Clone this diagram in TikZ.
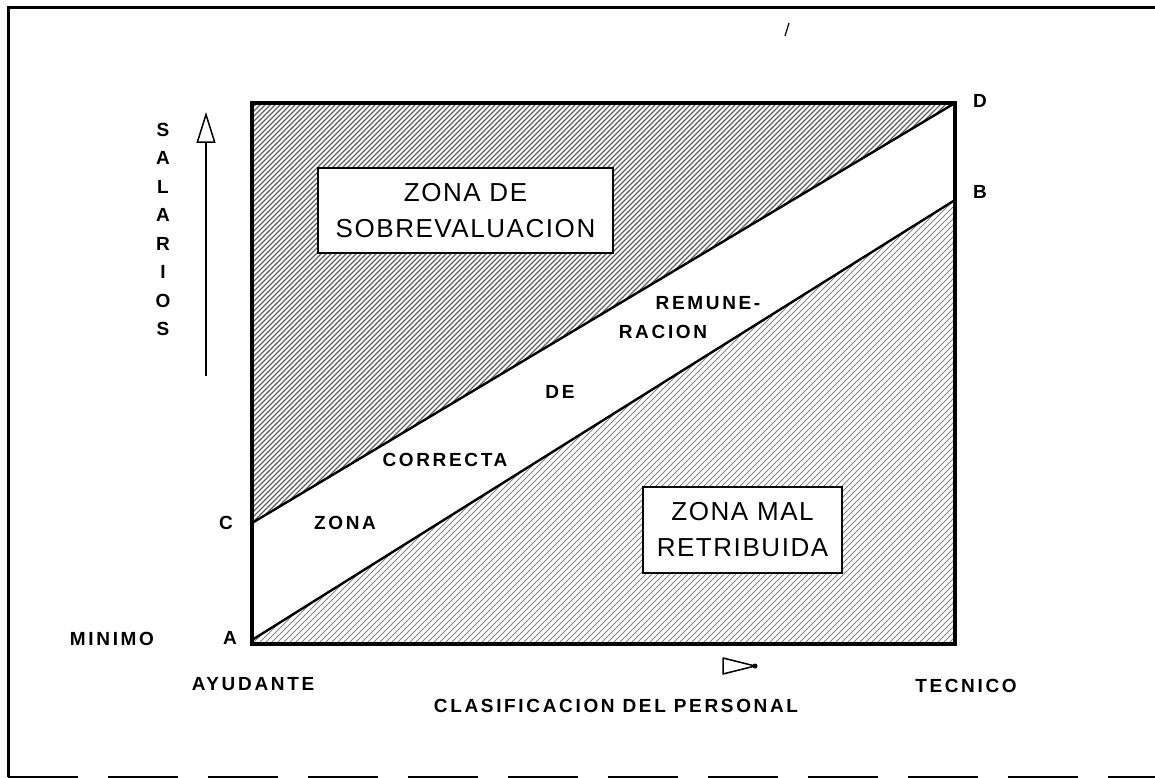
\documentclass[tikz,border=0pt]{standalone}
\usepackage{fontspec}
\setmainfont{Liberation Sans}
\newfontfamily\labfont[LetterSpace=14]{Liberation Sans}
\newfontfamily\boxfont[LetterSpace=6]{Liberation Sans}
\usetikzlibrary{arrows.meta}
\begin{document}
\begin{tikzpicture}[x=1pt,y=-1pt,
  lab/.style={font=\labfont\bfseries\fontsize{19}{23}\selectfont, inner sep=0pt},
  zonebox/.style={draw, line width=1.6pt, fill=white, font=\boxfont\fontsize{26}{36}\selectfont, align=center, inner sep=0pt},
  hatchup/.style={black!62, line width=1.1pt},
  hatchlow/.style={black!48, line width=1.0pt},
  frame/.style={line width=3pt},
  plotframe/.style={line width=4pt},
  bound/.style={line width=2.4pt}]
\useasboundingbox (0,0) rectangle (1155,778);
% outer frame
\coordinate (f1) at (1155,8);
\coordinate (f2) at (8,8);
\coordinate (f3) at (8,777);
\coordinate (f4) at (1155,777);
\draw[frame] (f1) -- (f2) -- (f3);
\draw[line width=1.5pt, dash pattern=on 70pt off 30pt] (f3) -- (f4);
\coordinate (s1) at (785,36);
\coordinate (s2) at (789,23);
\draw[line width=1.2pt] (s1) -- (s2);
% plot corners
\coordinate (TL) at (252,103);
\coordinate (BR) at (955,644);
\coordinate (BL) at (252,644);
\coordinate (A) at (252,640);
\coordinate (B) at (955,200);
\coordinate (C) at (252,523);
\coordinate (D) at (955,103);
% hatching
\begin{scope}
\clip (TL) -- (D) -- (C) -- cycle;
\foreach \i in {-300,-295,...,960} \draw[hatchup] (\i,650) -- ++(560,-560);
\end{scope}
\begin{scope}
\clip (A) -- (B) -- (BR) -- (BL) -- cycle;
\foreach \i in {-300,-294,...,960} \draw[hatchlow] (\i,650) -- ++(560,-560);
\end{scope}
\draw[bound] (C) -- (D);
\draw[bound] (A) -- (B);
\draw[plotframe] (TL) rectangle (BR);
% boxes
\node[zonebox, minimum width=295pt, minimum height=85pt] (sobre) at (465.5,210.5) {ZONA DE\\SOBREVALUACION};
\node[zonebox, minimum width=199pt, minimum height=86pt] (mal) at (742.5,530) {ZONA MAL\\RETRIBUIDA};
% corner labels
\node[lab] (lD) at (980,101) {D};
\node[lab] (lB) at (980,192) {B};
\node[lab] (lC) at (226,523) {C};
\node[lab] (lA) at (230,638) {A};
\node[lab] (minimo) at (112,639) {MINIMO};
\node[lab] (ayud) at (253,684) {AYUDANTE};
\node[lab] (tec) at (966,686) {TECNICO};
\node[lab] (clas) at (616,706) {CLASIFICACION DEL PERSONAL};
% band labels
\node[lab] (zona) at (345,523) {ZONA};
\node[lab] (corr) at (445,460) {CORRECTA};
\node[lab] (de) at (560,392) {DE};
\node[lab] (remune) at (708,303) {REMUNE-};
\node[lab] (racion) at (663,332) {RACION};
% vertical axis title
\foreach \ch [count=\k] in {S,A,L,A,R,I,O,S}
  \node[lab] (sal\k) at (163,101+28.5*\k) {\ch};
% up arrow
\coordinate (upS) at (206,376);
\coordinate (upE) at (206,112);
\draw[line width=1.2pt, -{Triangle[open,length=31pt,width=19pt,line width=1.5pt]}] (upS) -- (upE);
% right marker
\coordinate (r1) at (723,658);
\coordinate (r2) at (723,674);
\coordinate (r3) at (755,666);
\draw[line width=1.5pt, line join=round] (r1) -- (r2) -- (r3) -- cycle;
\fill (r3) circle (2.5pt);
\end{tikzpicture}
\end{document}
